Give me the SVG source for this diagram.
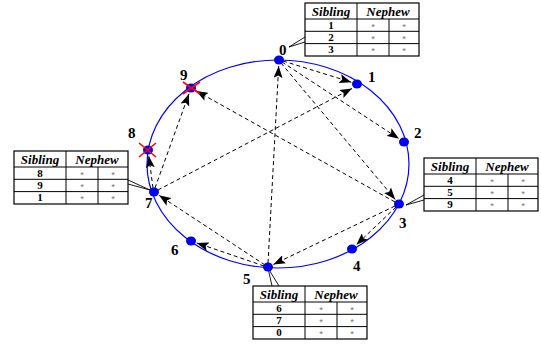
<svg xmlns="http://www.w3.org/2000/svg" xmlns:xlink="http://www.w3.org/1999/xlink" width="541" height="347" viewBox="0 0 541 347">
<style>
.ring{fill:none;stroke:#0000ff;stroke-width:1.2}
.dot{fill:#0000ee}
.lbl{font-family:"Liberation Serif",serif;font-weight:bold;font-size:15px;fill:#000}
.edge{fill:none;stroke:#000;stroke-width:1;stroke-dasharray:4,3;marker-end:url(#ah)}
.x{stroke:#ff0000;stroke-width:1.6}
.tb{fill:#fff;stroke:#000;stroke-width:1.2}
.tl{stroke:#000;stroke-width:1}
.hd{font-family:"Liberation Serif",serif;font-weight:bold;font-style:italic;font-size:13px;text-anchor:middle}
.num{font-family:"Liberation Serif",serif;font-weight:bold;font-size:11px;text-anchor:middle}
.st{font-family:"Liberation Sans",sans-serif;font-size:9.5px;fill:#777;text-anchor:middle}
.co{fill:none;stroke:#000;stroke-width:0.9}
</style>
<defs>
<marker id="ah" markerUnits="userSpaceOnUse" markerWidth="13" markerHeight="9" refX="12" refY="4.5" orient="auto">
<path d="M0,0 L12,4.5 L0,9 L2.5,4.5 z" fill="#000"/>
</marker>
<g id="grid">
<rect class="tb" x="0" y="0" width="114" height="53"/>
<line class="tl" x1="0" y1="16" x2="114" y2="16"/>
<line class="tl" x1="0" y1="28.3" x2="114" y2="28.3"/>
<line class="tl" x1="0" y1="40.6" x2="114" y2="40.6"/>
<line class="tl" x1="52" y1="0" x2="52" y2="53"/>
<line class="tl" x1="84" y1="16" x2="84" y2="53"/>
<text class="hd" x="26" y="12.5">Sibling</text>
<text class="hd" x="83" y="12.5">Nephew</text>
<text class="st" x="68" y="26.5">*</text>
<text class="st" x="99" y="26.5">*</text>
<text class="st" x="68" y="38.8">*</text>
<text class="st" x="99" y="38.8">*</text>
<text class="st" x="68" y="51.1">*</text>
<text class="st" x="99" y="51.1">*</text>
</g>
</defs>

<ellipse class="ring" cx="278" cy="164" rx="131" ry="104"/>

<g id="connectors">
<line class="edge" x1="283" y1="61" x2="351.3" y2="82.2"/>
<line class="edge" x1="282" y1="62" x2="399" y2="138.7"/>
<line class="edge" x1="281" y1="63" x2="395.2" y2="199.4"/>
<line class="edge" x1="268" y1="263" x2="278.7" y2="66"/>
<line class="edge" x1="158" y1="190" x2="352" y2="88.5"/>
<line class="edge" x1="396" y1="207" x2="356.3" y2="244.8"/>
<line class="edge" x1="395" y1="206" x2="273.4" y2="264.4"/>
<line class="edge" x1="395" y1="202" x2="196.2" y2="90.9"/>
<line class="edge" x1="155" y1="188" x2="189" y2="93.7"/>
<line class="edge" x1="153" y1="188" x2="148.8" y2="155.9"/>
<line class="edge" x1="264" y1="266" x2="196.7" y2="242.9"/>
<line class="edge" x1="265" y1="265" x2="159" y2="195.3"/>
<polyline class="co" points="305,37 289,47 305,42"/>
<polyline class="co" points="424,195 406,205 424,200"/>
<polyline class="co" points="128,180 150,190 128,184"/>
<polyline class="co" points="272,286 268,268 279,286"/>
</g>

<g id="n0"><ellipse class="dot" cx="279" cy="60" rx="5" ry="4.5"/><text class="lbl" x="279" y="55">0</text></g>
<g id="n1"><ellipse class="dot" cx="357" cy="84" rx="5" ry="4.5"/><text class="lbl" x="368" y="82">1</text></g>
<g id="n2"><ellipse class="dot" cx="404" cy="142" rx="5" ry="4.5"/><text class="lbl" x="414" y="138">2</text></g>
<g id="n3"><ellipse class="dot" cx="399" cy="204" rx="5" ry="4.5"/><text class="lbl" x="399" y="228">3</text></g>
<g id="n4"><ellipse class="dot" cx="352" cy="249" rx="5" ry="4.5"/><text class="lbl" x="353" y="271">4</text></g>
<g id="n5"><ellipse class="dot" cx="268" cy="267" rx="5" ry="4.5"/><text class="lbl" x="243" y="284">5</text></g>
<g id="n6"><ellipse class="dot" cx="191" cy="241" rx="5" ry="4.5"/><text class="lbl" x="171" y="255">6</text></g>
<g id="n7"><ellipse class="dot" cx="154" cy="192" rx="5" ry="4.5"/><text class="lbl" x="145" y="208">7</text></g>
<g id="n8"><ellipse class="dot" cx="148" cy="150" rx="5" ry="4.5"/><text class="lbl" x="128" y="138">8</text>
<line class="x" x1="139" y1="143" x2="156" y2="157"/><line class="x" x1="139" y1="157" x2="156" y2="143"/></g>
<g id="n9"><ellipse class="dot" cx="191" cy="88" rx="5" ry="4.5"/><text class="lbl" x="180" y="80">9</text>
<line class="x" x1="183" y1="82" x2="200" y2="94"/><line class="x" x1="183" y1="94" x2="200" y2="82"/></g>

<g id="table0" transform="translate(305,3)"><use xlink:href="#grid"/>
<text class="num" x="26" y="25.5">1</text><text class="num" x="26" y="37.8">2</text><text class="num" x="26" y="50.1">3</text></g>
<g id="table3" transform="translate(424,158)"><use xlink:href="#grid"/>
<text class="num" x="26" y="25.5">4</text><text class="num" x="26" y="37.8">5</text><text class="num" x="26" y="50.1">9</text></g>
<g id="table5" transform="translate(253,286)"><use xlink:href="#grid"/>
<text class="num" x="26" y="25.5">6</text><text class="num" x="26" y="37.8">7</text><text class="num" x="26" y="50.1">0</text></g>
<g id="table7" transform="translate(14,151)"><use xlink:href="#grid"/>
<text class="num" x="26" y="25.5">8</text><text class="num" x="26" y="37.8">9</text><text class="num" x="26" y="50.1">1</text></g>
</svg>
